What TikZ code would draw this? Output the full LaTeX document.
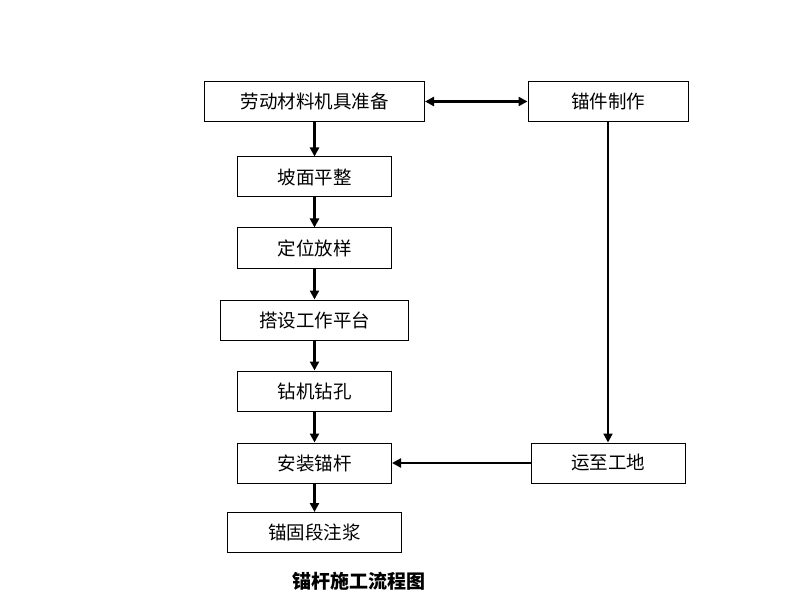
\documentclass[tikz,border=0pt]{standalone}
\usepackage{fontspec}
\setmainfont{Noto Sans CJK SC}
\usetikzlibrary{arrows.meta}
\begin{document}
\begin{tikzpicture}[x=1pt,y=-1pt]
\useasboundingbox (0,0) rectangle (799,601);
\tikzstyle{every node}=[draw,line width=1pt,minimum height=40pt,inner sep=0pt,font=\fontsize{18.5}{18.5}\selectfont];
\tikzstyle{arr}=[line width=2.5pt,-{Triangle[length=9pt,width=9pt]}];
\node (1)[minimum width=220pt] at (314.5,101.5) {劳动材料机具准备};
\node (m)[minimum width=160pt] at (608,101.5) {锚件制作};
\node (2)[minimum width=154pt] at (314.5,177) {坡面平整};
\node (3)[minimum width=154pt] at (314.5,248) {定位放样};
\node (4)[minimum width=188pt] at (314.5,320) {搭设工作平台};
\node (5)[minimum width=154pt] at (314.5,391) {钻机钻孔};
\node (6)[minimum width=154pt] at (314.5,463) {安装锚杆};
\node (y)[minimum width=154pt] at (608,463) {运至工地};
\node (7)[minimum width=174pt] at (314.5,532.5) {锚固段注浆};
\draw[arr](1)--(2);
\draw[arr](2)--(3);
\draw[arr](3)--(4);
\draw[arr](4)--(5);
\draw[arr](5)--(6);
\draw[arr](6)--(7);
\draw[arr](m)--(y);
\draw[arr](y)--(6);
\draw[line width=2.5pt,{Triangle[length=9pt,width=9pt]}-{Triangle[length=9pt,width=9pt]}](1)--(m);
\node[draw=none,minimum height=0pt,font=\fontsize{19}{19}\selectfont\bfseries] (t) at (358.5,581) {锚杆施工流程图};
\end{tikzpicture}
\end{document}
